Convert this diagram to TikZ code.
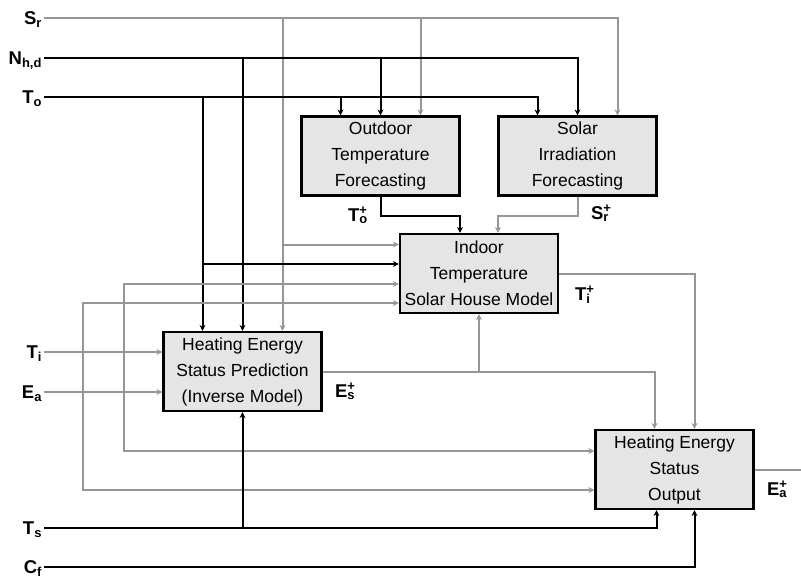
\documentclass[tikz,border=0pt]{standalone}
\usepackage{fontspec}
\setmainfont{Liberation Sans}
\usetikzlibrary{arrows.meta}
\definecolor{grigioLinea}{RGB}{150,150,150}
\newcommand{\uscita}[2]{#1\rlap{\textsuperscript{+}}\textsubscript{#2}}
\tikzset{punta/.tip={Stealth[length=6pt,width=6pt]}}
\begin{document}
\begin{tikzpicture}[x=1pt, y=-1pt, line width=2pt,
	blocco/.style={draw=black, line width=2.2pt, fill=gray!20, minimum width=158pt, minimum height=79pt, inner sep=0pt, align=center, font=\fontsize{17.5}{26}\selectfont},
	etichetta/.style={font=\bfseries\fontsize{18.5}{20}\selectfont, inner sep=1pt, text height=13pt, text depth=0pt},
	linea nera/.style={draw=black, -punta},
	linea grigia/.style={draw=grigioLinea, -punta}]
	\useasboundingbox (0,0) rectangle (801,579);
	
	% Blocchi
	\node[blocco] (otf) at (380.5,156) {Outdoor\\Temperature\\Forecasting};
	\node[blocco] (sif) at (577.5,156) {Solar\\Irradiation\\Forecasting};
	\node[blocco] (itm) at (479,273.5) {Indoor\\Temperature\\Solar House Model};
	\node[blocco] (hesp) at (242.5,371.5) {Heating Energy\\Status Prediction\\(Inverse Model)};
	\node[blocco] (heso) at (674.5,469.5) {Heating Energy\\Status\\Output};
	
	% Ingressi a sinistra
	\foreach \n/\y/\t in {Sr/18/{S\textsubscript{r}}, Nhd/58/{N\textsubscript{h,d}}, To/97/{T\textsubscript{o}}, Ti/352/{T\textsubscript{i}}, Ea/392/{E\textsubscript{a}}, Ts/528/{T\textsubscript{s}}, Cf/567/{C\textsubscript{f}}}
		\node[etichetta, anchor=east] (\n) at (44,\y) {\t};
	
	% Uscite
	\node[etichetta, anchor=base west] (lTo) at (346,221) {\uscita{T}{o}};
	\node[etichetta, anchor=base west] (lSr) at (589,219) {\uscita{S}{r}};
	\node[etichetta, anchor=base west] (lTi) at (573,300) {\uscita{T}{i}};
	\node[etichetta, anchor=base west] (lEs) at (333,397) {\uscita{E}{s}};
	\node[etichetta, anchor=base west] (lEa) at (765,495) {\uscita{E}{a}};
	
	% Porte
	\coordinate (itmA) at ([yshift=29pt]itm.west);
	\coordinate (itmB) at ([yshift=9.5pt]itm.west);
	\coordinate (itmC) at ([yshift=-10.5pt]itm.west);
	\coordinate (itmD) at ([yshift=-29.5pt]itm.west);
	\coordinate (hesoA) at ([yshift=18.5pt]heso.west);
	\coordinate (hesoB) at ([yshift=-20.5pt]heso.west);
	\coordinate (gomitoA) at (124,451);
	\coordinate (gomitoB) at (83,490);
	\coordinate (fine) at (801,469.5);
	
	% S_r
	\draw[linea grigia] (Sr.east) -| ([xshift=40pt]sif.north);
	\draw[linea grigia] ([xshift=40pt]otf.north |- Sr.east) -- ([xshift=40pt]otf.north);
	\draw[linea grigia] ([xshift=40pt]hesp.north |- Sr.east) -- ([xshift=40pt]hesp.north);
	\draw[linea grigia] ([xshift=40pt]hesp.north |- itmA) -- (itmA);
	
	% N_h,d
	\draw[linea nera] (Nhd.east) -| (sif.north);
	\draw[linea nera] (otf.north |- Nhd.east) -- (otf.north);
	\draw[linea nera] (hesp.north |- Nhd.east) -- (hesp.north);
	
	% T_o
	\draw[linea nera] (To.east) -| ([xshift=-40pt]sif.north);
	\draw[linea nera] ([xshift=-40pt]otf.north |- To.east) -- ([xshift=-40pt]otf.north);
	\draw[linea nera] ([xshift=-40pt]hesp.north |- To.east) -- ([xshift=-40pt]hesp.north);
	\draw[linea nera] ([xshift=-40pt]hesp.north |- itmB) -- (itmB);
	
	% Previsioni verso il modello
	\draw[linea nera] (otf.south) -- ++(0,19) -| ([xshift=-19pt]itm.north);
	\draw[linea grigia] (sif.south) -- ++(0,19) -| ([xshift=19pt]itm.north);
	
	% Anelli grigi
	\draw[linea grigia, punta-punta] (itmC) -| (gomitoA) -- (hesoA);
	\draw[linea grigia, punta-punta] (itmD) -| (gomitoB) -- (hesoB);
	
	% T_i, E_a
	\draw[linea grigia] (Ti.east) -- (Ti.east -| hesp.west);
	\draw[linea grigia] (Ea.east) -- (Ea.east -| hesp.west);
	
	% Uscite dei blocchi
	\draw[linea grigia] (itm.east) -| ([xshift=20pt]heso.north);
	\draw[linea grigia] (hesp.east) -| ([xshift=-20pt]heso.north);
	\draw[linea grigia] (itm.south |- hesp.east) -- (itm.south);
	\draw[linea grigia, -] (heso.east) -- (fine);
	
	% T_s, C_f
	\draw[linea nera] (Ts.east) -| ([xshift=-18pt]heso.south);
	\draw[linea nera] (hesp.south |- Ts.east) -- (hesp.south);
	\draw[linea nera] (Cf.east) -| ([xshift=20pt]heso.south);
\end{tikzpicture}
\end{document}
